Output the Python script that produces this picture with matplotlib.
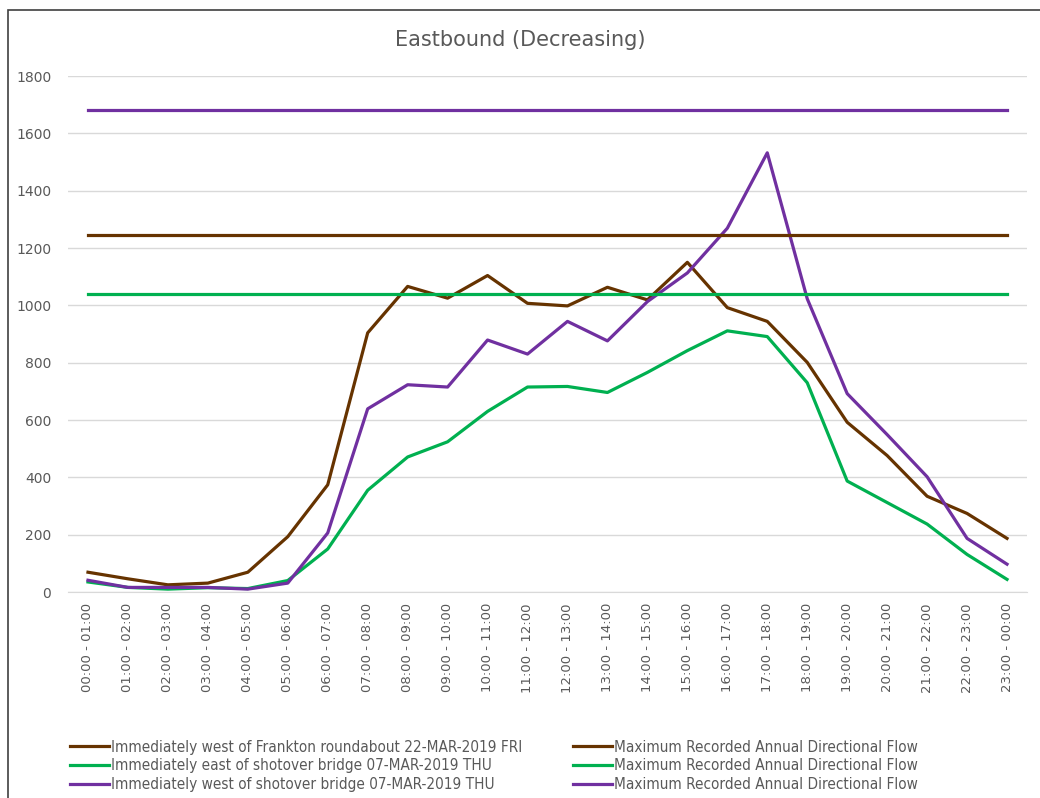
import matplotlib.pyplot as plt
from matplotlib.patches import Rectangle

hours = ['00:00 - 01:00', '01:00 - 02:00', '02:00 - 03:00', '03:00 - 04:00', '04:00 - 05:00',
         '05:00 - 06:00', '06:00 - 07:00', '07:00 - 08:00', '08:00 - 09:00', '09:00 - 10:00',
         '10:00 - 11:00', '11:00 - 12:00', '12:00 - 13:00', '13:00 - 14:00', '14:00 - 15:00',
         '15:00 - 16:00', '16:00 - 17:00', '17:00 - 18:00', '18:00 - 19:00', '19:00 - 20:00',
         '20:00 - 21:00', '21:00 - 22:00', '22:00 - 23:00', '23:00 - 00:00']

frankton = [69, 46, 25, 31, 69, 193, 374, 904, 1066, 1025, 1104, 1007,
            998, 1063, 1019, 1150, 992, 944, 801, 592, 476, 334, 274, 187]
east_shotover = [35, 16, 10, 15, 12, 40, 150, 355, 471, 524, 630, 715,
                 717, 696, 766, 842, 911, 891, 730, 387, 312, 237, 131, 44]
west_shotover = [41, 16, 16, 16, 10, 31, 206, 639, 723, 715, 879, 830,
                 944, 876, 1013, 1113, 1269, 1532, 1023, 692, 549, 402, 187, 97]

max_frankton = 1246
max_east = 1040
max_west = 1681

names = ['Immediately west of Frankton roundabout 22-MAR-2019 FRI',
         'Immediately east of shotover bridge 07-MAR-2019 THU',
         'Immediately west of shotover bridge 07-MAR-2019 THU']
max_name = 'Maximum Recorded Annual Directional Flow'

brown = '#663300'
green = '#00B050'
purple = '#7030A0'
grey = '#595959'

fig = plt.figure(figsize=(10.4, 7.98), dpi=100)
ax = fig.add_axes([68 / 1040, 1 - 592 / 798, (1027 - 68) / 1040, (592 - 76) / 798])

x = list(range(len(hours)))
lw = 2.3
l1, = ax.plot(x, frankton, c=brown, lw=lw)
l2, = ax.plot(x, east_shotover, c=green, lw=lw)
l3, = ax.plot(x, west_shotover, c=purple, lw=lw)
m1, = ax.plot(x, [max_frankton] * len(x), c=brown, lw=lw)
m2, = ax.plot(x, [max_east] * len(x), c=green, lw=lw)
m3, = ax.plot(x, [max_west] * len(x), c=purple, lw=lw)

ax.set_xlim(-0.5, len(x) - 0.5)
ax.set_ylim(0, 1800)
ax.set_yticks(range(0, 1801, 200))
ax.set_xticks(x)
ax.set_xticklabels(hours, rotation=90, fontsize=9.5, color=grey)
ax.tick_params(axis='y', labelsize=10, colors=grey, length=0, pad=12)
ax.tick_params(axis='x', length=0, pad=8)
ax.grid(axis='y', color='#d9d9d9', lw=1)
ax.set_axisbelow(True)
for s in ['top', 'right', 'left']:
    ax.spines[s].set_visible(False)
ax.spines['bottom'].set_color('#d9d9d9')

fig.text(0.5, 1 - 40 / 798, 'Eastbound (Decreasing)', ha='center', va='center',
         fontsize=15, color=grey)

leg = fig.legend([l1, l2, l3, m1, m2, m3], names + [max_name] * 3, ncol=2,
                 loc='lower left', bbox_to_anchor=(56 / 1040, -8 / 798), frameon=False,
                 prop={'family': 'DejaVu Sans', 'stretch': 'condensed', 'size': 11},
                 handlelength=2.6, handletextpad=0.1, columnspacing=3.3, labelspacing=0.25)
for t in leg.get_texts():
    t.set_color(grey)

fig.patches.append(Rectangle((8 / 1040, -0.05), 1.1, 1 - 10 / 798 + 0.05, transform=fig.transFigure,
                             fill=False, ec='#404040', lw=1.2))

fig.savefig('out.png', dpi=100)
